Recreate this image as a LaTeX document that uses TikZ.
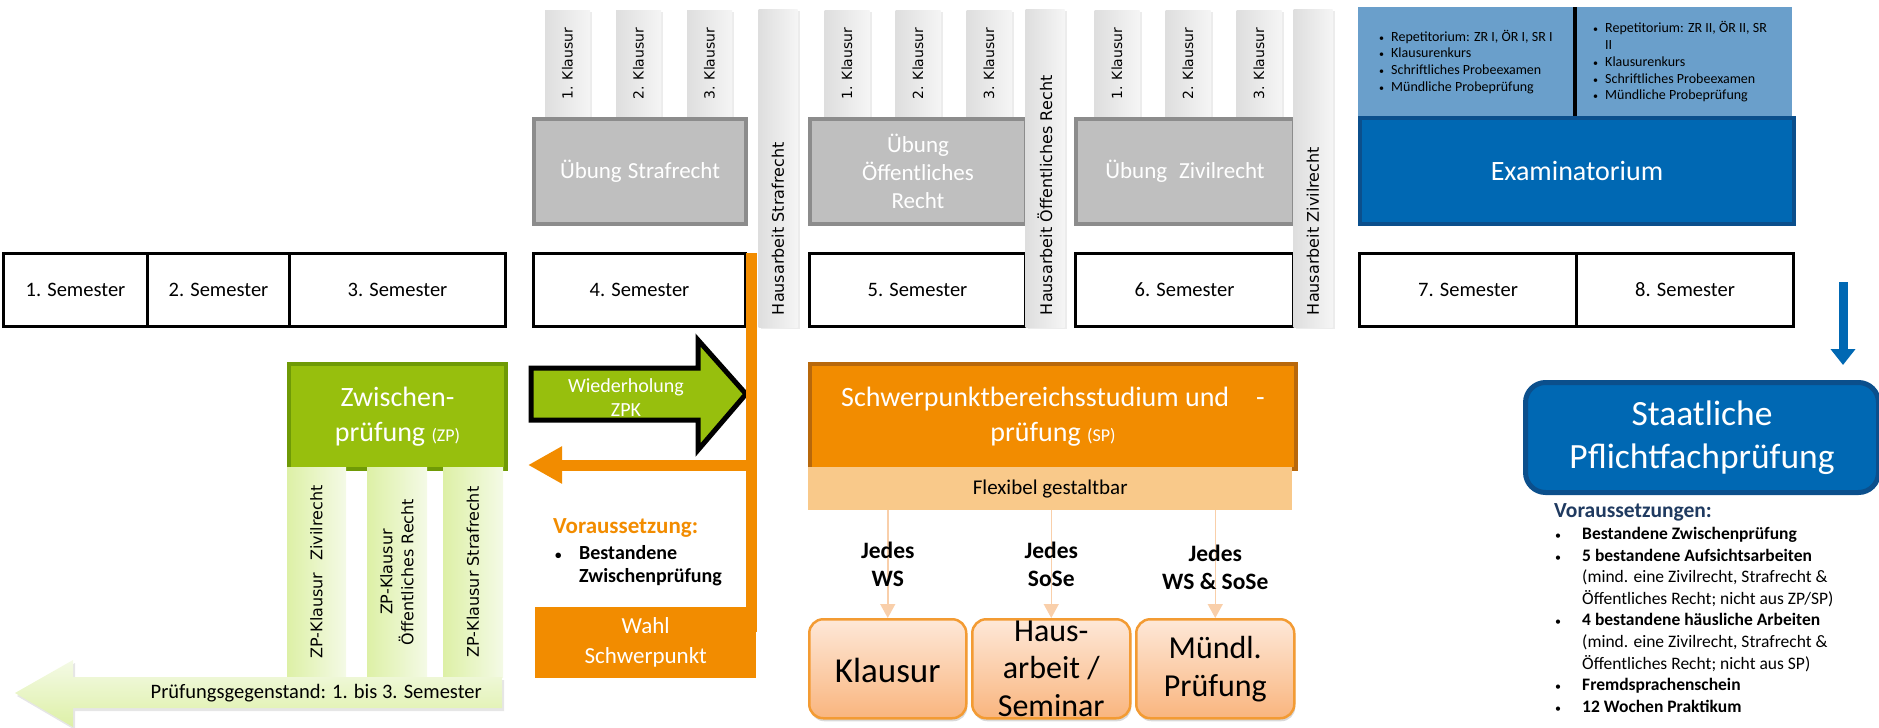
\documentclass[tikz,border=0pt]{standalone}
\usepackage{fontspec}
\setmainfont{Carlito}
\newfontfamily\tabfont{DejaVu Sans}
\usetikzlibrary{arrows.meta,shadows}

\definecolor{zpgreen}{HTML}{97BF0D}
\definecolor{zpborder}{HTML}{6F9A06}
\definecolor{zptop}{HTML}{F4FAE6}
\definecolor{zpbot}{HTML}{DDF0A6}
\definecolor{spor}{HTML}{F28C00}
\definecolor{spborder}{HTML}{B8680B}
\definecolor{flexor}{HTML}{F9C98A}
\definecolor{peachtop}{HTML}{FEE8D8}
\definecolor{peachbot}{HTML}{F9B57E}
\definecolor{peachline}{HTML}{F39B33}
\definecolor{thinor}{HTML}{F9CFAA}
\definecolor{ubgrey}{HTML}{BFBFBF}
\definecolor{ubborder}{HTML}{8C8C8C}
\definecolor{tabtop}{HTML}{F5F5F5}
\definecolor{tabbot}{HTML}{DEDEDE}
\definecolor{exlight}{HTML}{6A9FCB}
\definecolor{exdark}{HTML}{0068B3}
\definecolor{exborder}{HTML}{0B4F8C}
\definecolor{navy}{HTML}{1F3A60}

\newcommand{\fsz}[2]{\fontsize{#1pt}{#2pt}\selectfont}
\newcommand{\smbul}[1]{{\fontsize{#1pt}{#1pt}\selectfont\textbullet}}

\tikzset{
  sem/.style={draw=black, line width=3pt, anchor=north west, minimum height=73pt, inner sep=0pt, font=\fsz{20.5}{24}},
  tabshadow/.style={drop shadow={shadow xshift=2pt, shadow yshift=-2pt, opacity=0.15, fill=black!50}},
  ktab/.style={rotate=90, left color=tabbot, right color=tabtop, minimum width=107pt, minimum height=45pt, inner sep=0pt, font=\tabfont\fsz{14}{16}, tabshadow},
  htab/.style={rotate=90, left color=tabbot, right color=tabtop, minimum width=318pt, minimum height=39pt, text width=294pt, align=left, inner sep=0pt, font=\tabfont\fsz{16}{18}, tabshadow},
  uebung/.style={fill=ubgrey, draw=ubborder, line width=4pt, anchor=north west, minimum height=105pt, inner sep=0pt, align=center, text=white, font=\fsz{23}{28}},
  exlist/.style={anchor=west, inner sep=0pt, font=\fsz{14}{16.8}},
  exam/.style={fill=exdark, draw=exborder, line width=4pt, anchor=north west, minimum height=106pt, inner sep=0pt, text=white, font=\fsz{28}{32}},
  zpbox/.style={fill=zpgreen, draw=zpborder, line width=4pt, anchor=north west, minimum width=217pt, minimum height=105pt, inner sep=0pt, align=center, text=white, font=\fsz{28}{35}},
  zptab/.style={rotate=90, left color=zpbot, right color=zptop, minimum width=210pt, inner sep=0pt, align=center, font=\tabfont\fsz{16}{21}},
  spbox/.style={fill=spor, draw=spborder, line width=4pt, anchor=north west, minimum width=486pt, minimum height=105pt, inner sep=0pt, align=center, text=white, font=\fsz{28}{35}},
  flex/.style={fill=flexor, anchor=north west, minimum width=484pt, minimum height=43pt, inner sep=0pt, font=\fsz{21}{24}},
  pbox/.style={rounded corners=14pt, draw=peachline, line width=2.5pt, top color=peachtop, bottom color=peachbot, anchor=north west, minimum height=99pt, inner sep=0pt, drop shadow={shadow xshift=1pt, shadow yshift=-3pt, opacity=0.3}},
  ptext/.style={align=center, inner sep=0pt},
  jarrow/.style={draw=thinor, line width=1.5pt, -{Triangle[width=15pt,length=14pt]}},
  jlabel/.style={align=center, inner sep=0pt, font=\bfseries\fsz{23.5}{28}},
  orline/.style={draw=spor, line width=11pt},
  wied/.style={draw=black, line width=5pt, fill=zpgreen, line join=miter},
  staat/.style={fill=exdark, draw=exborder, line width=5pt, rounded corners=20pt, anchor=north west, minimum width=353pt, minimum height=110pt, inner sep=0pt, align=center, text=white, font=\fsz{35.5}{43}},
  bluearrow/.style={draw=exdark, line width=9pt, -{Triangle[width=24pt,length=16pt]}}
}

\begin{document}
\begin{tikzpicture}[x=1pt,y=-1pt]
\useasboundingbox (0,0) rectangle (1879,728);

\foreach \n/\xa/\w in {1/2/144,2/146/142,3/288/216,4/532/212,5/808/216,6/1074/218,7/1358/217,8/1575/217}
	\node[sem, minimum width=\w pt] (sem\n) at (\xa,252) {\n. Semester};

\foreach \g/\xa in {str/567.5,oer/847,zr/1117}
	\foreach \n in {1,2,3}
		\node[ktab] (k\g\n) at (\xa+71*\n-71,63.5) {\n. Klausur};

\node[uebung, minimum width=212pt] (uestr) at (532,117) {Übung\hspace{6pt}Strafrecht};
\node[uebung, minimum width=216pt] (ueoer) at (808,117) {Übung\\Öffentliches\\Recht};
\node[uebung, minimum width=218pt] (uezr) at (1074,117) {Übung\hspace{12pt}Zivilrecht};

\foreach \nm/\cx/\txt in {hstr/778/Hausarbeit Strafrecht,hoer/1045/Hausarbeit Öffentliches Recht,hzr/1313/Hausarbeit Zivilrecht}
	\node[htab] (\nm) at (\cx,168) {\txt};

\node[fill=exlight, anchor=north west, minimum width=434pt, minimum height=109pt, inner sep=0pt] (exbg) at (1358,7) {};
\draw[line width=4pt] (exbg.north) -- (exbg.south);
\node[exlist] (exleft) at (1379,63) {\begin{tabular}{@{}p{12pt}@{}l@{}}
	\smbul{10} & Repetitorium: ZR I, ÖR I, SR I\\
	\smbul{10} & Klausurenkurs\\
	\smbul{10} & Schriftliches Probeexamen\\
	\smbul{10} & Mündliche Probeprüfung
	\end{tabular}};
\node[exlist] (exright) at (1593,63) {\begin{tabular}{@{}p{12pt}@{}l@{}}
	\smbul{10} & Repetitorium: ZR II, ÖR II, SR\\
	& II\\
	\smbul{10} & Klausurenkurs\\
	\smbul{10} & Schriftliches Probeexamen\\
	\smbul{10} & Mündliche Probeprüfung
	\end{tabular}};
\node[exam, minimum width=434pt] (exam) at (1358,116) {Examinatorium};

\node[zpbox] (zp) at (287,362) {Zwischen-\\prüfung {\fsz{18}{35}(ZP)}};
\node[zptab, minimum height=59pt] (zpzr) at (316.5,572) {ZP-Klausur\hspace{12pt}Zivilrecht};
\node[zptab, minimum height=60pt] (zpoer) at (397,572) {ZP-Klausur\\Öffentliches Recht};
\node[zptab, minimum height=60pt] (zpsr) at (473,572) {ZP-Klausur Strafrecht};

\path[top color=zptop, bottom color=zpbot, drop shadow={shadow xshift=2pt, shadow yshift=-3pt, opacity=0.2}]
	(502,677) -- (73,677) -- (73,660) -- (15,693) -- (73,727) -- (73,708) -- (502,708) -- cycle;
\node[anchor=east, inner sep=0pt, font=\fsz{20.5}{24}] (pg) at (482,693) {Prüfungsgegenstand: 1. bis 3. Semester};

\draw[wied] (531,368) -- (698,368) -- (698,340) -- (746,394) -- (698,450) -- (698,420) -- (531,420) -- cycle;
\node[align=center, inner sep=0pt, text=white, font=\fsz{20}{24}] (wiedtext) at (626,398) {Wiederholung\\ZPK};

\node[fill=spor, anchor=north west, minimum width=221pt, minimum height=71pt, inner sep=0pt, align=center, text=white, font=\fsz{23}{30}] (wahl) at (535,607) {Wahl\\Schwerpunkt};
\coordinate (otop) at (751,253);
\coordinate (obot) at (751,632);
\coordinate (obr) at (751,465);
\draw[orline] (otop) -- (obot);
\draw[orline, -{Triangle[width=35pt,length=34pt]}] (obr) -- ([xshift=-7pt]obr -| wahl.west);

\node[anchor=west, inner sep=0pt, text=spor, font=\bfseries\fsz{23}{26}] (vztitle) at (553,528) {Voraussetzung:};
\node[anchor=west, inner sep=0pt, font=\bfseries\fsz{20}{23}] (vzlist) at (555,566.5) {\begin{tabular}{@{}p{24pt}@{}l@{}}
	\smbul{13} & Bestandene\\
	& Zwischenprüfung
	\end{tabular}};

\node[spbox] (sp) at (808,362) {Schwerpunktbereichsstudium und\hspace{27pt}-\\prüfung {\fsz{18}{35}(SP)}};
\node[flex] (flex) at (808,467) {Flexibel gestaltbar};

\node[pbox, minimum width=157pt] (pkl) at (808,618) {};
\node[pbox, minimum width=158pt] (pha) at (971,618) {};
\node[pbox, minimum width=158pt] (pmu) at (1135,618) {};
\node[ptext, font=\fsz{35}{38}] (tkl) at ([yshift=-2pt]pkl.center) {Klausur};
\node[ptext, font=\fsz{32}{37.5}] (tha) at (pha.center) {Haus-\\arbeit /\\Seminar};
\node[ptext, font=\fsz{32}{38}] (tmu) at (pmu.center) {Mündl.\\Prüfung};

\draw[jarrow] (pkl.north |- flex.south) -- node[jlabel] (jkl) {Jedes\\WS} (pkl.north);
\draw[jarrow] (pha.north |- flex.south) -- node[jlabel] (jha) {Jedes\\SoSe} (pha.north);
\draw[jarrow] (pmu.north |- flex.south) -- node[jlabel, yshift=-3pt] (jmu) {Jedes\\WS \& SoSe} (pmu.north);

\coordinate (btop) at (1843,282);
\node[staat] (staat) at (1523,380) {Staatliche\\Pflichtfachprüfung};
\draw[bluearrow] (btop) -- ([yshift=15pt]staat.north -| btop);

\node[anchor=west, inner sep=0pt, text=navy, font=\bfseries\fsz{21.5}{26}] (vstitle) at (1554,512) {Voraussetzungen:};
\node[anchor=west, inner sep=0pt, font=\fsz{17.5}{21.6}] (vslist) at (1555,621.5) {\begin{tabular}{@{}p{27pt}@{}l@{}}
	\smbul{12} & \textbf{Bestandene Zwischenprüfung}\\
	\smbul{12} & \textbf{5 bestandene Aufsichtsarbeiten}\\
	& (mind. eine Zivilrecht, Strafrecht \&\\
	& Öffentliches Recht; nicht aus ZP/SP)\\
	\smbul{12} & \textbf{4 bestandene häusliche Arbeiten}\\
	& (mind. eine Zivilrecht, Strafrecht \&\\
	& Öffentliches Recht; nicht aus SP)\\
	\smbul{12} & \textbf{Fremdsprachenschein}\\
	\smbul{12} & \textbf{12 Wochen Praktikum}
	\end{tabular}};
\end{tikzpicture}
\end{document}
